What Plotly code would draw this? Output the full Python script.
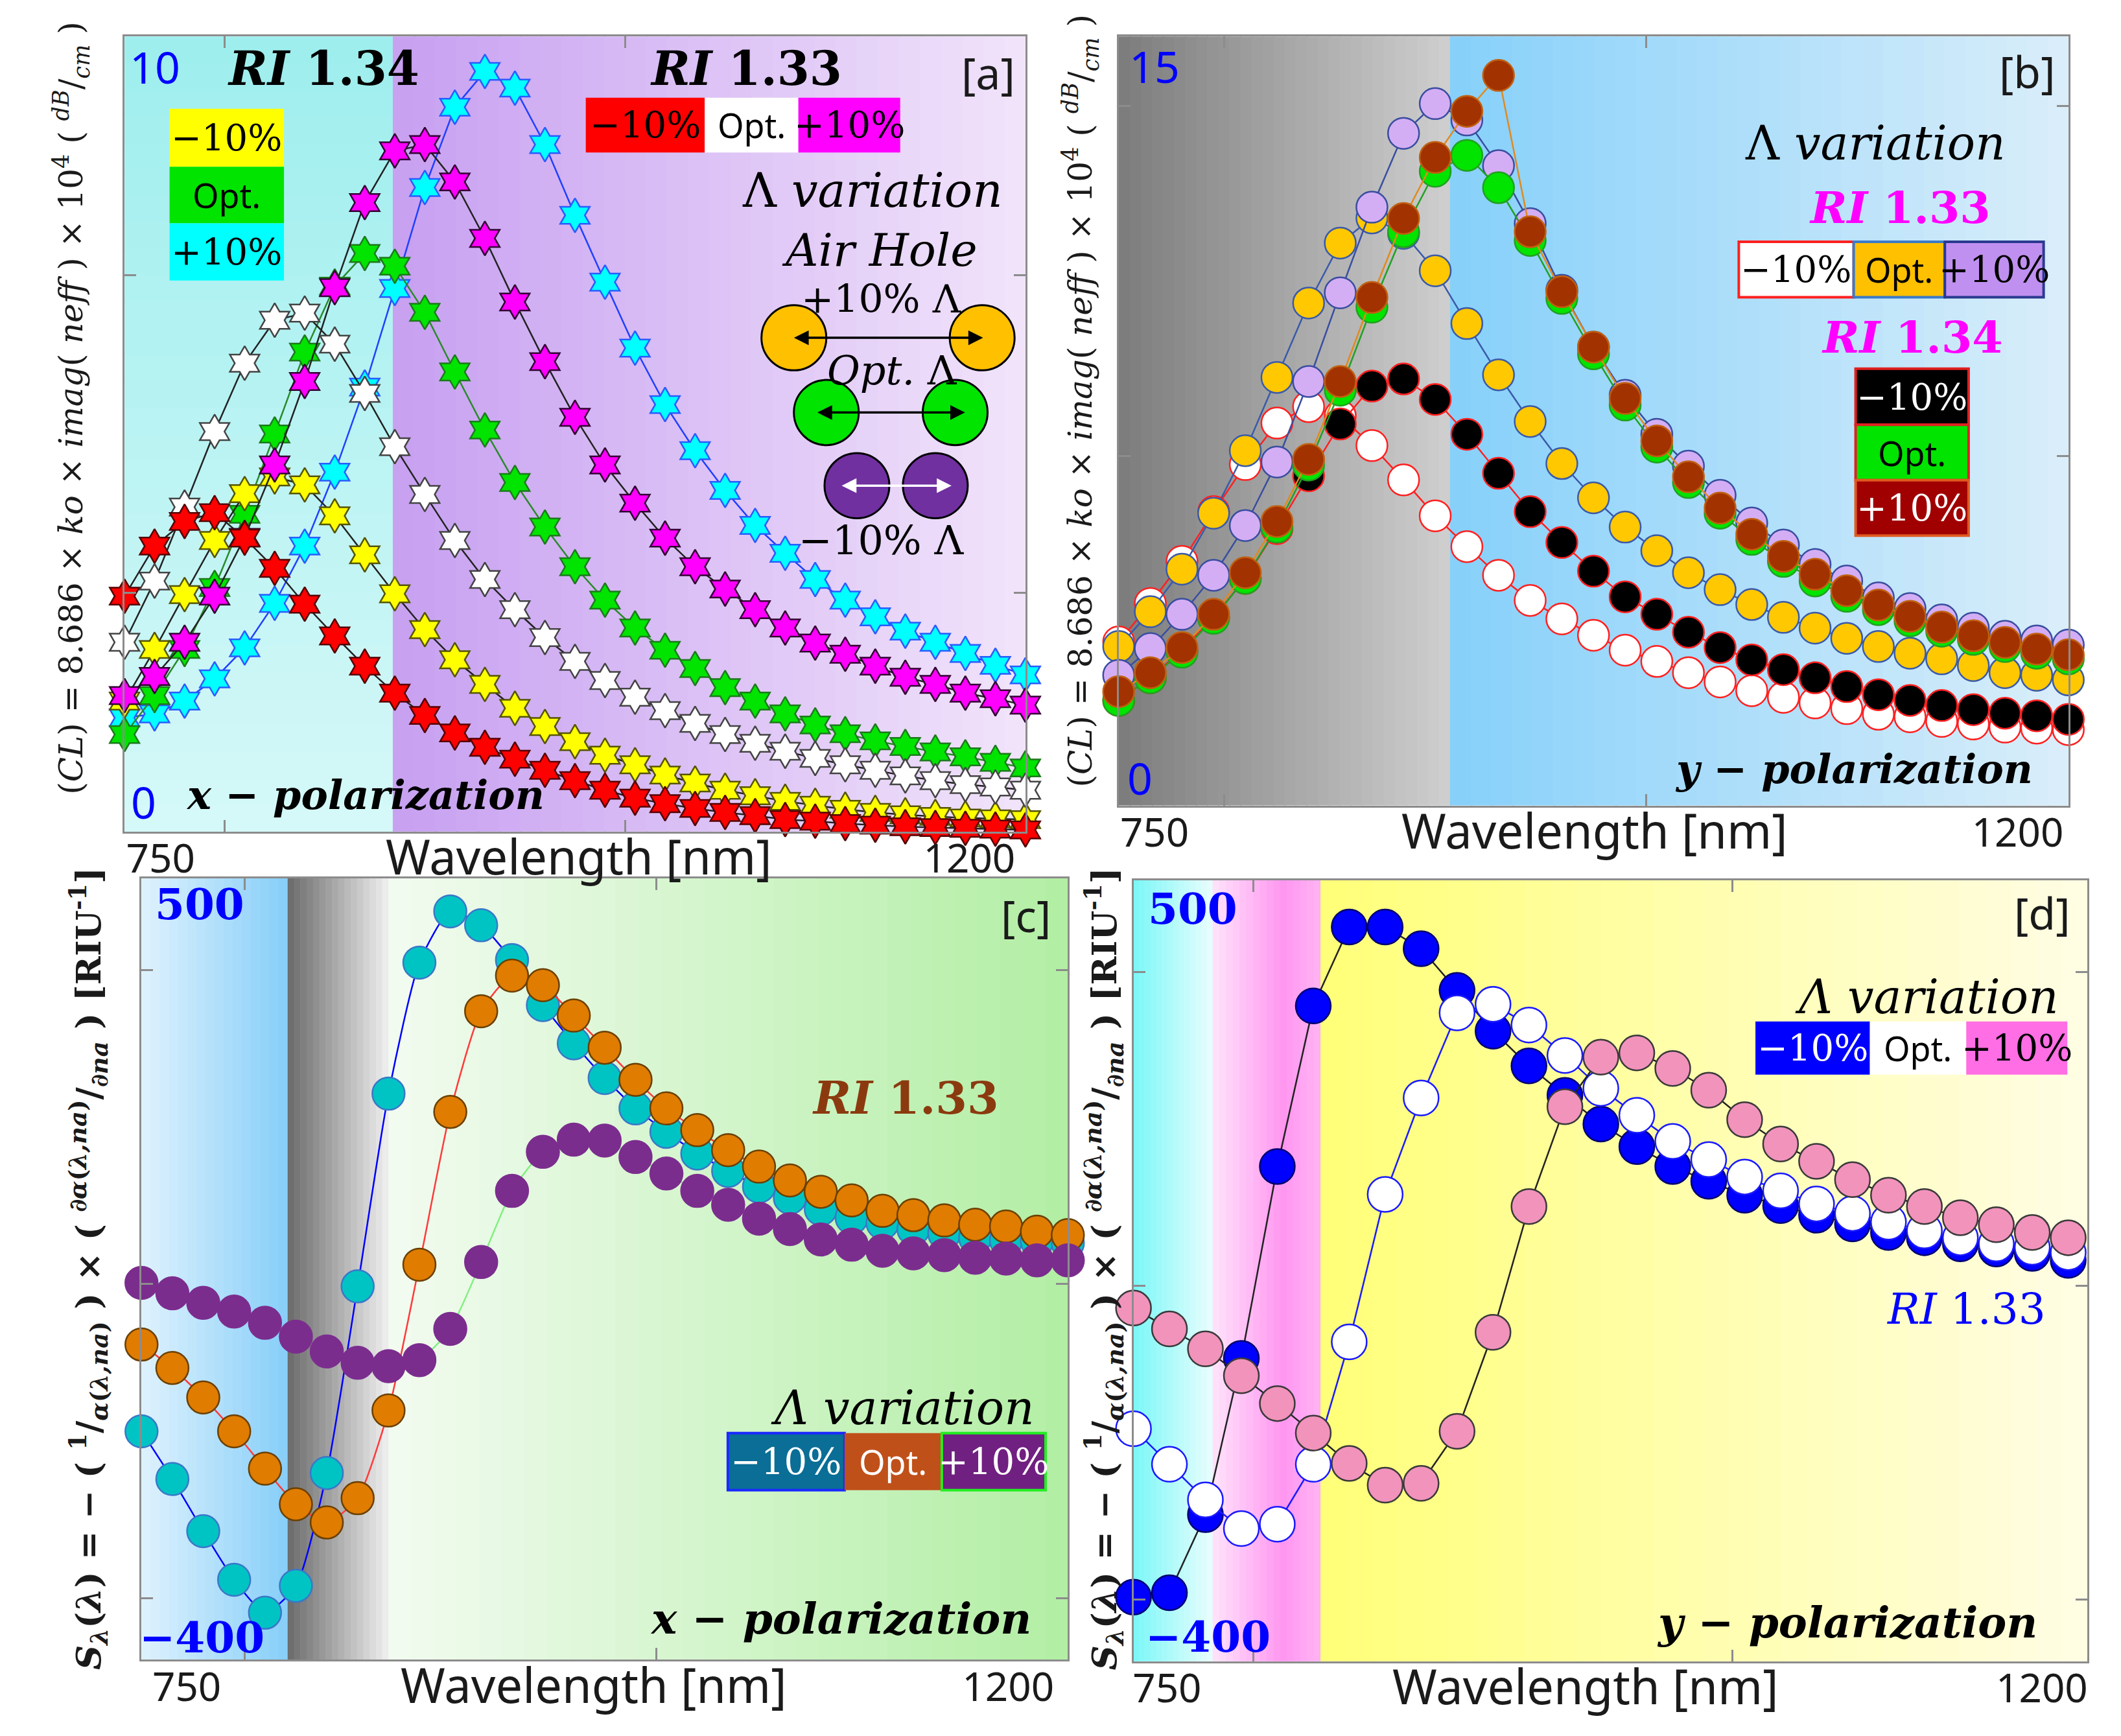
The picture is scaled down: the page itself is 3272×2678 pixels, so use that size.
import plotly.graph_objects as go

# ---- data ----
wavelength = [750, 765, 780, 795, 810, 825, 840, 855, 870, 885, 900, 915, 930, 945, 960, 975,
              990, 1005, 1020, 1035, 1050, 1065, 1080, 1095, 1110, 1125, 1140, 1155, 1170, 1185, 1200]
wavelength_d = [750, 765, 780, 795, 810, 825, 840, 855, 870, 885, 900, 915, 930, 945, 960, 975,
                990, 1005, 1020, 1035, 1050, 1065, 1080, 1095, 1110, 1125, 1140]

# [a] confinement loss, x-pol (stars)
a_ri133_m10 = [2.96, 3.59, 3.90, 4.01, 3.69, 3.31, 2.86, 2.46, 2.08, 1.74, 1.46, 1.24, 1.06, 0.91, 0.77, 0.64,
               0.52, 0.42, 0.35, 0.29, 0.24, 0.20, 0.15, 0.13, 0.10, 0.08, 0.06, 0.05, 0.04, 0.03, 0.02]
a_ri133_opt = [2.38, 3.15, 4.08, 5.03, 5.89, 6.43, 6.52, 6.13, 5.51, 4.84, 4.24, 3.66, 3.17, 2.79, 2.44, 2.14,
               1.90, 1.69, 1.52, 1.36, 1.22, 1.11, 1.01, 0.92, 0.84, 0.77, 0.70, 0.64, 0.59, 0.56, 0.52]
a_ri133_p10 = [1.71, 1.95, 2.38, 2.96, 3.70, 4.61, 5.66, 6.84, 7.91, 8.56, 8.64, 8.17, 7.46, 6.66, 5.91, 5.21,
               4.61, 4.13, 3.69, 3.33, 3.05, 2.79, 2.56, 2.37, 2.23, 2.08, 1.94, 1.85, 1.74, 1.67, 1.59]
a_ri134_m10 = [1.64, 2.29, 2.98, 3.66, 4.25, 4.46, 4.36, 3.97, 3.48, 2.99, 2.54, 2.16, 1.85, 1.55, 1.32, 1.13,
               0.96, 0.84, 0.71, 0.61, 0.52, 0.45, 0.38, 0.33, 0.28, 0.24, 0.21, 0.19, 0.17, 0.16, 0.15]
a_ri134_opt = [1.22, 1.71, 2.29, 3.07, 3.99, 5.00, 6.03, 6.86, 7.27, 7.11, 6.53, 5.78, 5.05, 4.39, 3.83, 3.33,
               2.91, 2.56, 2.28, 2.05, 1.81, 1.64, 1.48, 1.34, 1.23, 1.14, 1.07, 1.00, 0.94, 0.87, 0.80]
a_ri134_p10 = [1.43, 1.48, 1.64, 1.92, 2.31, 2.87, 3.59, 4.52, 5.59, 6.83, 8.10, 9.11, 9.56, 9.35, 8.64, 7.75,
               6.91, 6.08, 5.37, 4.79, 4.29, 3.85, 3.50, 3.17, 2.91, 2.70, 2.52, 2.38, 2.24, 2.09, 1.97]

# [b] confinement loss, y-pol (circles)
b_ri133_m10 = [3.19, 3.94, 4.76, 5.73, 6.65, 7.46, 7.78, 7.60, 7.02, 6.35, 5.65, 5.05, 4.49, 4.00, 3.64, 3.32,
               3.03, 2.81, 2.59, 2.41, 2.24, 2.11, 2.00, 1.89, 1.78, 1.73, 1.64, 1.59, 1.53, 1.51, 1.48]
b_ri133_opt = [3.10, 3.78, 4.61, 5.70, 6.92, 8.35, 9.80, 10.97, 11.46, 11.16, 10.43, 9.40, 8.40, 7.49, 6.67, 6.00,
               5.43, 4.97, 4.54, 4.21, 3.92, 3.67, 3.46, 3.26, 3.10, 2.97, 2.86, 2.73, 2.59, 2.54, 2.45]
b_ri133_p10 = [2.54, 3.06, 3.73, 4.49, 5.46, 6.70, 8.27, 10.00, 11.67, 13.11, 13.69, 13.37, 12.48, 11.35, 10.05, 8.94,
               8.00, 7.24, 6.62, 6.05, 5.51, 5.08, 4.70, 4.38, 4.05, 3.84, 3.62, 3.46, 3.30, 3.21, 3.13]
b_ri134_m10 = [2.05, 2.49, 3.03, 3.67, 4.43, 5.40, 6.43, 7.44, 8.18, 8.32, 7.92, 7.24, 6.48, 5.73, 5.13, 4.57,
               4.07, 3.73, 3.38, 3.08, 2.84, 2.65, 2.49, 2.32, 2.16, 2.05, 1.95, 1.87, 1.80, 1.75, 1.68]
b_ri134_opt = [2.05, 2.49, 2.99, 3.65, 4.43, 5.43, 6.64, 8.10, 9.72, 11.19, 12.37, 12.68, 12.05, 11.02, 9.89, 8.81,
               7.81, 6.99, 6.30, 5.70, 5.19, 4.76, 4.38, 4.08, 3.82, 3.60, 3.40, 3.24, 3.10, 2.97, 2.86]
b_ri134_p10 = [2.22, 2.59, 3.08, 3.73, 4.54, 5.54, 6.75, 8.27, 9.91, 11.45, 12.64, 13.54, 14.24, 11.19, 10.02, 8.94,
               7.94, 7.11, 6.41, 5.80, 5.29, 4.86, 4.51, 4.19, 3.91, 3.69, 3.48, 3.31, 3.18, 3.05, 2.94]

# [c] sensitivity, x-pol, RI 1.33
c_m10 = [-137, -192, -252, -308, -346, -315, -185, 30, 252, 403, 462, 446, 406, 354, 310, 270,
         235, 208, 183, 163, 145, 132, 119, 109, 103, 96, 91, 86, 83, 82, 80]
c_opt = [-37, -64, -98, -137, -180, -221, -242, -214, -113, 55, 231, 347, 388, 377, 342, 305,
         268, 235, 210, 187, 168, 152, 139, 129, 117, 112, 106, 101, 99, 93, 89]
c_p10 = [34, 22, 11, 1, -12, -28, -45, -58, -62, -55, -19, 58, 140, 185, 199, 198,
         179, 160, 140, 124, 108, 96, 84, 78, 71, 68, 66, 63, 62, 60, 60]

# [d] sensitivity, y-pol, RI 1.33
d_m10 = [-326, -321, -231, -51, 170, 355, 446, 446, 421, 373, 326, 286, 252, 219, 193, 170,
         153, 137, 125, 114, 104, 94, 88, 81, 75, 70, 62]
d_opt = [-132, -173, -214, -247, -242, -173, -32, 138, 249, 347, 357, 333, 298, 260, 229, 199,
         178, 158, 142, 127, 116, 106, 96, 88, 81, 77, 71]
d_p10 = [7, -17, -40, -71, -103, -137, -172, -197, -195, -135, -21, 124, 239, 296, 301, 283,
         258, 224, 196, 176, 155, 137, 124, 111, 103, 94, 88]

SANS = "Noto Sans"
SERIF = "DejaVu Serif"

fig = go.Figure()


def hex_rgb(h):
    h = h.lstrip("#")
    return tuple(int(h[i:i + 2], 16) for i in (0, 2, 4))


def color_at(stops, t):
    for k in range(len(stops) - 1):
        t0, c0 = stops[k]
        t1, c1 = stops[k + 1]
        if t <= t1 or k == len(stops) - 2:
            f = 0 if t1 == t0 else min(max((t - t0) / (t1 - t0), 0), 1)
            a, b = hex_rgb(c0), hex_rgb(c1)
            return "rgb(%d,%d,%d)" % tuple(round(a[i] + (b[i] - a[i]) * f) for i in range(3))


def band(ax, x0, x1, stops, n=30, vertical=False):
    # background colour band drawn as thin strips (gradient)
    for k in range(n):
        t = (k + 0.5) / n
        col = color_at(stops, t)
        if vertical:
            shp = dict(x0=x0, x1=x1, y0=1 - (k + 1) / n - 0.002, y1=1 - k / n)
        else:
            shp = dict(x0=x0 + (x1 - x0) * k / n, x1=x0 + (x1 - x0) * (k + 1) / n + (x1 - x0) * 0.004,
                       y0=0, y1=1)
        fig.add_shape(type="rect", xref=ax, yref="y" + ax[1:] + " domain", fillcolor=col,
                      line_width=0, layer="below", **shp)


def txt(ax, x, y, text, size, color="black", family=SANS, xanchor="center", yanchor="middle", **kw):
    fig.add_annotation(xref=ax + " domain", yref="y" + ax[1:] + " domain", x=x, y=y, text=text,
                       showarrow=False, xanchor=xanchor, yanchor=yanchor,
                       font=dict(size=size, color=color, family=family), **kw)


def box(ax, x0, x1, y0, y1, fill, text, tcolor="black", family=SERIF, border=None, size=56):
    fig.add_shape(type="rect", xref=ax + " domain", yref="y" + ax[1:] + " domain",
                  x0=x0, x1=x1, y0=y0, y1=y1, fillcolor=fill,
                  line=dict(color=border or fill, width=4 if border else 0))
    if family == SANS:
        size = size - 4
    txt(ax, (x0 + x1) / 2, (y0 + y1) / 2, text, size, tcolor, family)


def series(ax, x, y, fill, edge, line, symbol="circle", size=48, lw=2.5, shape="linear"):
    fig.add_trace(go.Scatter(x=x, y=y, mode="lines+markers", xaxis=ax, yaxis="y" + ax[1:],
                             line=dict(color=line, width=lw, shape=shape, smoothing=0.6),
                             marker=dict(symbol=symbol, size=size, color=fill,
                                         line=dict(color=edge, width=2.5)),
                             cliponaxis=False, showlegend=False))


# ---- backgrounds ----
band("x", 750, 884, [(0, "#9EEEEE"), (1, "#D6F8F8")], vertical=True)
band("x", 884, 1200, [(0, "#C7A0F1"), (1, "#F1E4FA")])
band("x2", 750, 907, [(0, "#7C7C7C"), (1, "#CFCFCF")])
band("x2", 907, 1200, [(0, "#86D0FA"), (1, "#DAEEFA")])
band("x3", 750, 821, [(0, "#DFF2FE"), (1, "#86CEF8")], n=16)
band("x3", 821, 870, [(0, "#6A6A6A"), (1, "#F0F0F0")], n=16)
band("x3", 870, 1200, [(0, "#F2FBF0"), (1, "#B2EEA4")])
band("x4", 750, 783, [(0, "#7AF7F7"), (1, "#EAFDFD")], n=14)
band("x4", 783, 828, [(0, "#FFE4FB"), (0.65, "#FF96F0"), (1, "#FFB4F4")], n=16)
band("x4", 828, 1148, [(0, "#FFFF78"), (1, "#FFFDE4")])

# ---- traces ----
series("x", wavelength, a_ri134_p10, "#00FFFF", "#2A5CFF", "#2040FF", "hexagram", 40)
series("x", wavelength, a_ri134_opt, "#00E400", "#1D7A1D", "#2A8A2A", "hexagram", 40)
series("x", wavelength, a_ri134_m10, "#FFFF00", "#555500", "#222222", "hexagram", 40)
series("x", wavelength, a_ri133_p10, "#FF00FF", "#330033", "#222222", "hexagram", 40)
series("x", wavelength, a_ri133_opt, "#FFFFFF", "#444444", "#222222", "hexagram", 40)
series("x", wavelength, a_ri133_m10, "#FF0000", "#550000", "#222222", "hexagram", 40)

series("x2", wavelength, b_ri133_m10, "#FFFFFF", "#FF2020", "#FF2020")
series("x2", wavelength, b_ri134_m10, "#000000", "#FF2020", "#FF2020")
series("x2", wavelength, b_ri133_opt, "#FFC800", "#3A5AA8", "#3A5AA8")
series("x2", wavelength, b_ri133_p10, "#D4AEF4", "#3A4EA0", "#3A4EA0")
series("x2", wavelength, b_ri134_opt, "#00E400", "#22A022", "#22A022")
series("x2", wavelength, b_ri134_p10, "#A23200", "#C06010", "#E08A20")

series("x3", wavelength, c_m10, "#00C4C4", "#3A78C8", "#0000FF", size=50, shape="spline")
series("x3", wavelength, c_opt, "#E07C00", "#6A4000", "#FF3A3A", size=50, shape="spline")
series("x3", wavelength, c_p10, "#7B2D8E", "#7B2D8E", "#80F080", size=50, shape="spline")

series("x4", wavelength_d, d_m10, "#0000FF", "#000070", "#222222", size=54)
series("x4", wavelength_d, d_opt, "#FFFFFF", "#1A1AFF", "#1A1AFF", size=54)
series("x4", wavelength_d, d_p10, "#F293BC", "#3A3A3A", "#222222", size=54)

# ---- axes ----
panels = {
    "x": dict(dom_x=[0.056, 0.481], dom_y=[0.524, 0.982], xr=[750, 1200], yr=[0, 10],
              lab=[768, 1172], yt=[3, 7]),
    "x2": dict(dom_x=[0.525, 0.973], dom_y=[0.539, 0.982], xr=[750, 1200], yr=[0, 15],
               lab=[767, 1176], yt=[6.82, 13.64]),
    "x3": dict(dom_x=[0.064, 0.501], dom_y=[0.047, 0.497], xr=[750, 1200], yr=[-400, 500],
               lab=[772, 1171], yt=[-329, 33, 394]),
    "x4": dict(dom_x=[0.532, 0.982], dom_y=[0.046, 0.496], xr=[750, 1148], yr=[-400, 500],
               lab=[764, 1129], yt=[-329, 33, 394]),
}
for ax, p in panels.items():
    n = ax[1:]
    xkey = "xaxis" + n
    ykey = "yaxis" + n
    fig.update_layout({
        xkey: dict(domain=p["dom_x"], range=p["xr"], anchor="y" + n, showgrid=False, zeroline=False,
                   showline=True, mirror="ticks", linecolor="#8C8C8C", linewidth=3,
                   tickvals=p["lab"], ticktext=["750", "1200"], ticks="", ticklen=0,
                   ticklabelstandoff=-14,
                   tickfont=dict(family=SANS, size=62, color="#1A1A1A"),
                   minor=dict(tickvals=[800, 1000], ticks="inside", ticklen=18, tickcolor="#8C8C8C",
                              tickwidth=3)),
        ykey: dict(domain=p["dom_y"], range=p["yr"], anchor=ax, showgrid=False, zeroline=False,
                   showline=True, mirror="ticks", linecolor="#8C8C8C", linewidth=3,
                   showticklabels=False, tickvals=p["yt"], ticks="inside", ticklen=18,
                   tickcolor="#8C8C8C", tickwidth=3),
    })
    txt(ax, {"x": 0.504, "x2": 0.501, "x3": 0.488, "x4": 0.474}[ax], 0, "Wavelength [nm]", 74,
        "#1A1A1A", yshift=-38)

# ---- y-axis titles ----
cl_title = ("(<i>CL</i>) = 8.686 × <i>ko</i> × <i>imag</i>( <i>neff</i> ) × 10<sup>4</sup> "
            "( <sup><i>dB</i></sup>/<sub><i>cm</i></sub> )")
s_title = ("<b><i>S</i><sub><i>λ</i></sub>(<i>λ</i>) = − ( <sup>1</sup>/<sub><i>α</i>(<i>λ,na</i>)</sub> ) × "
           "( <sup>∂<i>α</i>(<i>λ,na</i>)</sup>/<sub>∂<i>na</i></sub> ) [RIU<sup>-1</sup>]</b>")
for xp, yp, t, fs in [(0.031, 0.768, cl_title, 50), (0.507, 0.772, cl_title, 50),
                      (0.039, 0.272, s_title, 53), (0.518, 0.272, s_title, 53)]:
    fig.add_annotation(xref="paper", yref="paper", x=xp, y=yp, text=t, textangle=-90, showarrow=False,
                       xanchor="center", yanchor="middle",
                       font=dict(family=SERIF, size=fs, color="#1A1A1A"))

# ---- panel [a] texts ----
txt("x", 0.004, 0.962, "10", 68, "#0000FF", xanchor="left")
txt("x", 0.006, 0.038, "0", 68, "#0000FF", xanchor="left")
txt("x", 0.221, 0.960, "<b><i>RI</i> 1.34</b>", 72, family=SERIF)
txt("x", 0.690, 0.960, "<b><i>RI</i> 1.33</b>", 72, family=SERIF)
txt("x", 0.959, 0.955, "[a]", 68, "#1A1A1A")
box("x", 0.050, 0.177, 0.836, 0.909, "#FFFF00", "−10%")
box("x", 0.050, 0.177, 0.765, 0.836, "#00E400", "Opt.", family=SANS)
box("x", 0.050, 0.177, 0.693, 0.765, "#00FFFF", "+10%")
box("x", 0.512, 0.644, 0.854, 0.923, "#FF0000", "−10%")
box("x", 0.644, 0.748, 0.854, 0.923, "#FFFFFF", "Opt.", family=SANS)
box("x", 0.748, 0.861, 0.854, 0.923, "#FF00FF", "+10%")
txt("x", 0.830, 0.806, "Λ <i>variation</i>", 72, family=SERIF)
txt("x", 0.838, 0.731, "<i>Air Hole</i>", 70, family=SERIF)
txt("x", 0.840, 0.670, "+10% Λ", 60, family=SERIF)
txt("x", 0.852, 0.580, "<i>Opt.</i> Λ", 62, family=SERIF)
txt("x", 0.840, 0.366, "−10% Λ", 62, family=SERIF)
rx, ry = 0.036, 0.041
for cx, cy, col in [(0.743, 0.621, "#FFC000"), (0.952, 0.621, "#FFC000"),
                    (0.779, 0.527, "#00E400"), (0.922, 0.527, "#00E400"),
                    (0.813, 0.435, "#7030A0"), (0.900, 0.435, "#7030A0")]:
    fig.add_shape(type="circle", xref="x domain", yref="y domain", x0=cx - rx, x1=cx + rx,
                  y0=cy - ry, y1=cy + ry, fillcolor=col, line=dict(color="black", width=3))
for x0, x1, yy, col in [(0.742, 0.953, 0.621, "black"), (0.768, 0.933, 0.527, "black"),
                        (0.795, 0.918, 0.435, "white")]:
    fig.add_annotation(xref="x domain", yref="y domain", axref="x domain", ayref="y domain",
                       x=x1, y=yy, ax=x0, ay=yy, text="", showarrow=True, arrowside="end+start",
                       arrowhead=2, arrowsize=1.3, arrowwidth=3.5, arrowcolor=col, standoff=0,
                       startstandoff=0, startarrowhead=2, startarrowsize=1.3)
txt("x", 0.267, 0.046, "<b><i>x</i> − <i>polarization</i></b>", 62, family=SERIF)

# ---- panel [b] texts ----
txt("x2", 0.010, 0.962, "15", 68, "#0000FF", xanchor="left")
txt("x2", 0.008, 0.036, "0", 68, "#0000FF", xanchor="left")
txt("x2", 0.957, 0.955, "[b]", 68, "#1A1A1A")
txt("x2", 0.797, 0.861, "Λ <i>variation</i>", 72, family=SERIF)
txt("x2", 0.823, 0.778, "<b><i>RI</i> 1.33</b>", 68, "#FF00FF", family=SERIF)
box("x2", 0.653, 0.774, 0.661, 0.733, "#FFFFFF", "−10%", border="#FF2020")
box("x2", 0.774, 0.870, 0.661, 0.733, "#FFC000", "Opt.", family=SANS, border="#3A7AC8")
box("x2", 0.870, 0.974, 0.661, 0.733, "#C090F0", "+10%", border="#2A3A90")
txt("x2", 0.836, 0.609, "<b><i>RI</i> 1.34</b>", 68, "#FF00FF", family=SERIF)
box("x2", 0.776, 0.895, 0.495, 0.568, "#000000", "−10%", "white", border="#E02020")
box("x2", 0.776, 0.895, 0.423, 0.495, "#00E400", "Opt.", family=SANS, border="#E02020")
box("x2", 0.776, 0.895, 0.351, 0.423, "#A00000", "+10%", "white", border="#E05A20")
txt("x2", 0.774, 0.047, "<b><i>y</i> − <i>polarization</i></b>", 62, family=SERIF)

# ---- panel [c] texts ----
txt("x3", 0.013, 0.967, "<b>500</b>", 66, "#0000FF", family=SERIF, xanchor="left")
txt("x3", -0.004, 0.028, "<b>−400</b>", 66, "#0000FF", family=SERIF, xanchor="left")
txt("x3", 0.955, 0.953, "[c]", 68, "#1A1A1A")
txt("x3", 0.825, 0.719, "<b><i>RI</i> 1.33</b>", 70, "#8B3A0F", family=SERIF)
txt("x3", 0.822, 0.322, "<i>Λ variation</i>", 72, family=SERIF)
box("x3", 0.633, 0.759, 0.217, 0.290, "#0A6E96", "−10%", "white", border="#1A2AFF")
box("x3", 0.759, 0.864, 0.217, 0.290, "#C0501A", "Opt.", "white", family=SANS)
box("x3", 0.864, 0.976, 0.217, 0.290, "#702080", "+10%", "white", border="#22EE22")
txt("x3", 0.755, 0.052, "<b><i>x</i> − <i>polarization</i></b>", 66, family=SERIF)

# ---- panel [d] texts ----
txt("x4", 0.014, 0.963, "<b>500</b>", 66, "#0000FF", family=SERIF, xanchor="left")
txt("x4", 0.011, 0.031, "<b>−400</b>", 66, "#0000FF", family=SERIF, xanchor="left")
txt("x4", 0.953, 0.959, "[d]", 68, "#1A1A1A")
txt("x4", 0.832, 0.850, "<i>Λ variation</i>", 72, family=SERIF)
box("x4", 0.652, 0.772, 0.751, 0.819, "#0000FF", "−10%", "white")
box("x4", 0.772, 0.873, 0.751, 0.819, "#FFFFFF", "Opt.", family=SANS)
box("x4", 0.873, 0.979, 0.751, 0.819, "#FF6EE4", "+10%")
txt("x4", 0.873, 0.451, "<i>RI</i> 1.33", 66, "#0000FF", family=SERIF)
txt("x4", 0.748, 0.050, "<b><i>y</i> − <i>polarization</i></b>", 66, family=SERIF)

fig.update_layout(width=3272, height=2678, autosize=False, margin=dict(l=0, r=0, t=0, b=0),
                  paper_bgcolor="white", plot_bgcolor="white", showlegend=False)
fig.write_html("out.html")
